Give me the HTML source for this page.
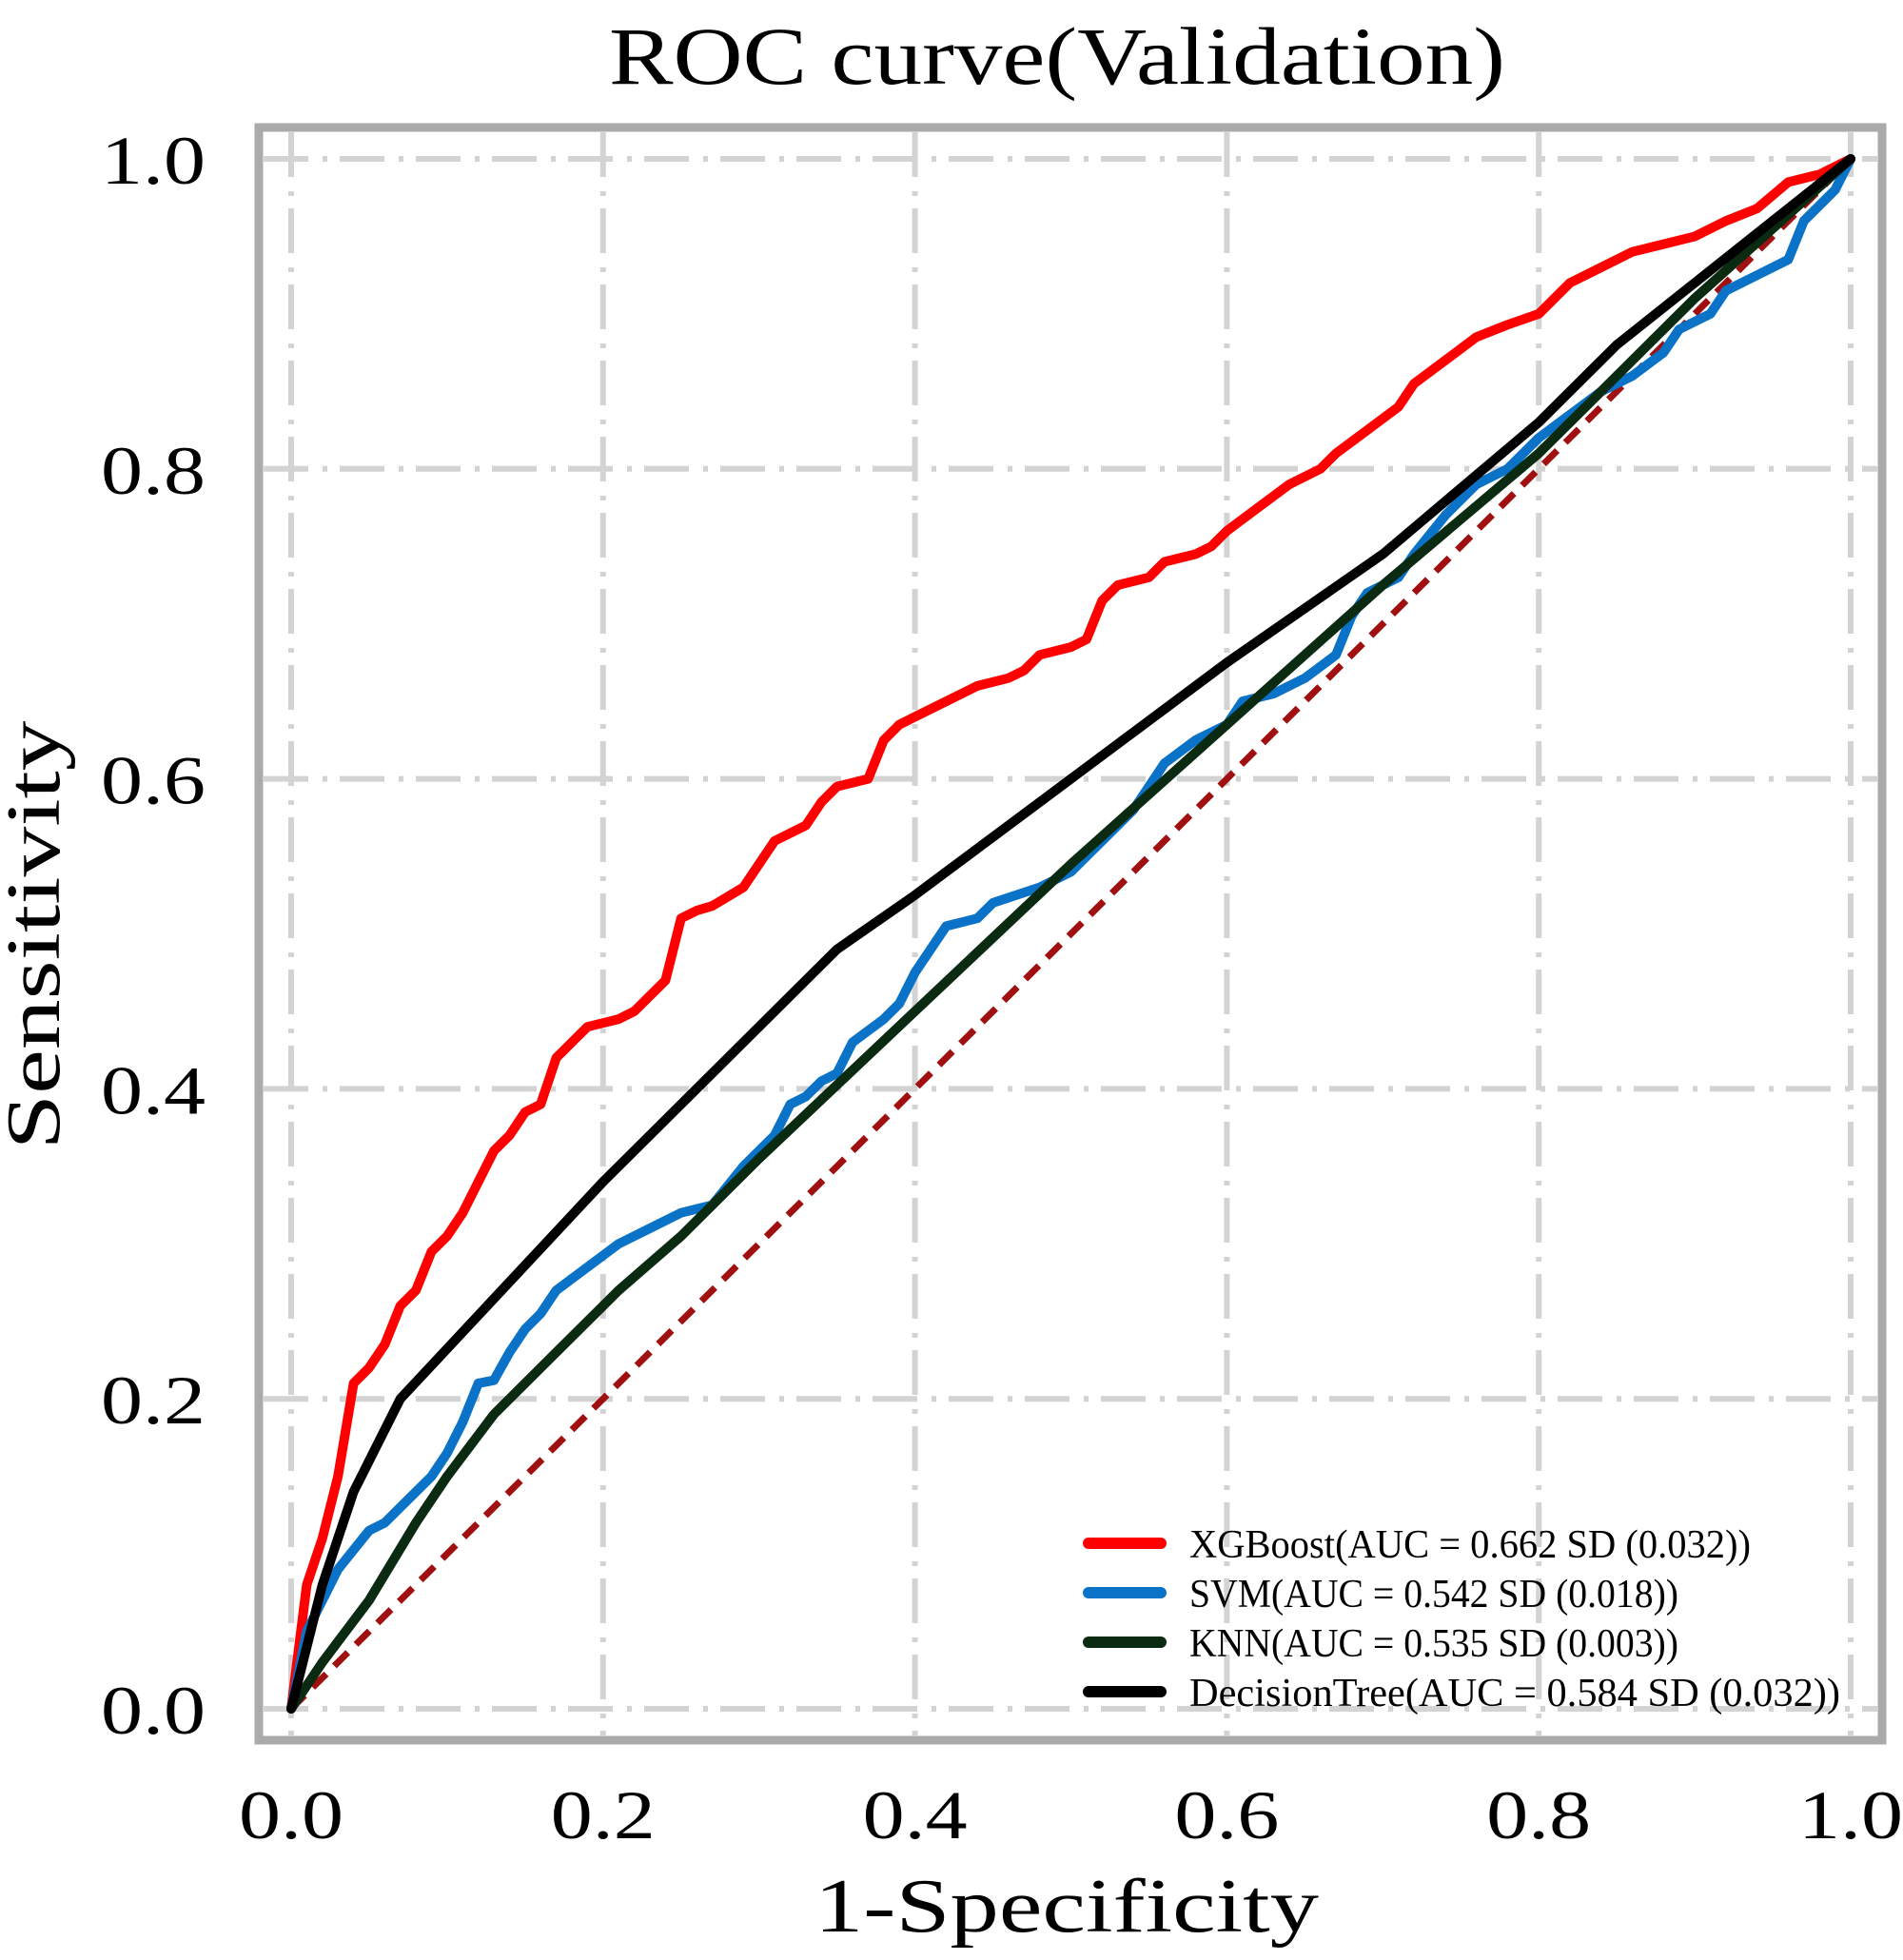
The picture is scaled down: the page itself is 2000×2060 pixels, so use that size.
<!DOCTYPE html>
<html><head><meta charset="utf-8"><style>
html,body{margin:0;padding:0;background:#fff;}
svg{display:block;}
text{font-family:"Liberation Serif","Noto Serif CJK SC",serif;fill:#000;}
</style></head><body>
<svg id="chart" width="2000" height="2060" viewBox="0 0 2000 2060" xmlns="http://www.w3.org/2000/svg">
<text x="1111" y="88" font-size="86" text-anchor="middle" textLength="942" lengthAdjust="spacingAndGlyphs">ROC curve(Validation)</text>
<g id="grid"></g>
<g id="ticks"></g>
<rect x="272" y="134" width="1706" height="1695" fill="none" stroke="#aaaaaa" stroke-width="9"/>
<g id="series"></g>
<g id="legend"></g>
<text x="1121" y="2030" font-size="80" text-anchor="middle" textLength="530" lengthAdjust="spacingAndGlyphs">1-Specificity</text>
<text transform="translate(62,983) rotate(-90)" font-size="80" text-anchor="middle" textLength="451" lengthAdjust="spacingAndGlyphs">Sensitivity</text>
</svg>
<script>
const tickValues = [0, 0.2, 0.4, 0.6, 0.8, 1.0];
const tickLabels = ["0.0", "0.2", "0.4", "0.6", "0.8", "1.0"];
const seriesNames = ["XGBoost(AUC = 0.662 SD (0.032))", "SVM(AUC = 0.542 SD (0.018))", "KNN(AUC = 0.535 SD (0.003))", "DecisionTree(AUC = 0.584 SD (0.032))"];
const xgbX = [0,0.01,0.02,0.03,0.04,0.05,0.06,0.07,0.08,0.09,0.10,0.11,0.12,0.13,0.14,0.15,0.16,0.17,0.18,0.19,0.21,0.22,0.23,0.24,0.25,0.26,0.27,0.29,0.31,0.33,0.34,0.35,0.37,0.38,0.39,0.40,0.42,0.44,0.46,0.47,0.48,0.50,0.51,0.52,0.53,0.55,0.56,0.58,0.59,0.60,0.62,0.64,0.66,0.67,0.69,0.71,0.72,0.74,0.76,0.78,0.80,0.82,0.84,0.86,0.88,0.90,0.92,0.94,0.96,0.98,1];
const xgbY = [0,0.08,0.11,0.15,0.21,0.22,0.235,0.26,0.27,0.295,0.305,0.32,0.34,0.36,0.37,0.385,0.39,0.42,0.43,0.44,0.445,0.45,0.46,0.47,0.51,0.515,0.518,0.53,0.56,0.57,0.585,0.595,0.60,0.625,0.635,0.64,0.65,0.66,0.665,0.67,0.68,0.685,0.69,0.715,0.725,0.73,0.74,0.745,0.75,0.76,0.775,0.79,0.80,0.81,0.825,0.84,0.855,0.87,0.885,0.893,0.90,0.92,0.93,0.94,0.945,0.95,0.96,0.968,0.985,0.99,1];
const svmX = [0,0.01,0.02,0.03,0.05,0.06,0.07,0.08,0.09,0.10,0.11,0.12,0.13,0.14,0.15,0.16,0.17,0.19,0.21,0.23,0.25,0.27,0.29,0.31,0.32,0.33,0.34,0.35,0.36,0.38,0.39,0.40,0.42,0.44,0.45,0.48,0.50,0.52,0.54,0.56,0.58,0.60,0.61,0.63,0.65,0.67,0.68,0.69,0.71,0.72,0.74,0.76,0.78,0.80,0.82,0.84,0.86,0.88,0.89,0.91,0.92,0.94,0.96,0.97,0.99,1];
const svmY = [0,0.05,0.07,0.09,0.115,0.12,0.13,0.14,0.15,0.165,0.185,0.21,0.212,0.23,0.245,0.255,0.27,0.285,0.30,0.31,0.32,0.325,0.35,0.37,0.39,0.395,0.405,0.41,0.43,0.445,0.455,0.475,0.505,0.51,0.52,0.53,0.54,0.56,0.58,0.61,0.625,0.635,0.65,0.655,0.665,0.68,0.705,0.72,0.73,0.745,0.77,0.79,0.80,0.82,0.835,0.85,0.86,0.875,0.89,0.90,0.915,0.925,0.935,0.96,0.98,1];
const knnX = [0,0.02,0.05,0.08,0.10,0.13,0.17,0.21,0.25,0.30,0.40,0.50,0.60,0.70,0.80,0.90,1];
const knnY = [0,0.03,0.07,0.12,0.15,0.19,0.23,0.27,0.305,0.355,0.45,0.545,0.635,0.725,0.81,0.91,1];
const dtX = [0,0.02,0.04,0.07,0.20,0.35,0.40,0.50,0.60,0.70,0.80,0.85,0.90,1];
const dtY = [0,0.08,0.14,0.20,0.34,0.49,0.525,0.60,0.675,0.745,0.83,0.88,0.92,1];

const NS = "http://www.w3.org/2000/svg";
const X0 = 306, X1 = 1945, Y0 = 1796, Y1 = 167;
function sx(v){ return X0 + v * (X1 - X0); }
function sy(v){ return Y0 - v * (Y0 - Y1); }
function mk(tag, attrs, parent){
  const e = document.createElementNS(NS, tag);
  for (const k in attrs) e.setAttribute(k, attrs[k]);
  parent.appendChild(e); return e;
}
const grid = document.getElementById('grid');
const ticks = document.getElementById('ticks');
tickValues.forEach((v, i) => {
  const gx = mk('line', {x1: sx(v), x2: sx(v), y1: 139, y2: 1824, stroke: '#d3d3d3', 'stroke-width': 6, 'stroke-dasharray': '47 15 5 13'}, grid);
  
  
  const gy = mk('line', {x1: 277, x2: 1973, y1: sy(v), y2: sy(v), stroke: '#d3d3d3', 'stroke-width': 6, 'stroke-dasharray': '47 15 5 13'}, grid);
  
  
  const tx = mk('text', {x: sx(v), y: 1932, 'font-size': 72, 'text-anchor': 'middle', textLength: 110, lengthAdjust: 'spacingAndGlyphs'}, ticks);
  tx.textContent = tickLabels[i];
  
  
  const ty = mk('text', {x: 216, y: sy(v) + 26, 'font-size': 72, 'text-anchor': 'end', textLength: 110, lengthAdjust: 'spacingAndGlyphs'}, ticks);
  ty.textContent = tickLabels[i];
  
  
});
const series = document.getElementById('series');
const diag = mk('line', {x1: sx(0), y1: sy(0), x2: sx(1), y2: sy(1), stroke: '#a01010', 'stroke-width': 7, 'stroke-dasharray': '20 12'}, series);


const sets = [[xgbX, xgbY, '#ff0000', 'xgboost-curve'], [svmX, svmY, '#0a73c8', 'svm-curve'], [knnX, knnY, '#0b2a12', 'knn-curve'], [dtX, dtY, '#000000', 'decisiontree-curve']];
sets.forEach(s => {
  const d = s[0].map((x, i) => (i ? 'L' : 'M') + sx(x).toFixed(1) + ',' + sy(s[1][i]).toFixed(1)).join(' ');
  const p = mk('path', {d: d, fill: 'none', stroke: s[2], 'stroke-width': 10, 'stroke-linejoin': 'round', 'stroke-linecap': 'round'}, series);
  
  
});
const legend = document.getElementById('legend');
const legLens = [590, 514, 514, 684];
seriesNames.forEach((n, i) => {
  const y = 1622 + i * 52;
  const l = mk('line', {x1: 1144, x2: 1220, y1: y, y2: y, stroke: sets[i][2], 'stroke-width': 12, 'stroke-linecap': 'round'}, legend);
  
  
  const t = mk('text', {x: 1250, y: y + 15, 'font-size': 42, textLength: legLens[i], lengthAdjust: 'spacingAndGlyphs'}, legend);
  t.textContent = n;
  
  
});
</script>
</body></html>
